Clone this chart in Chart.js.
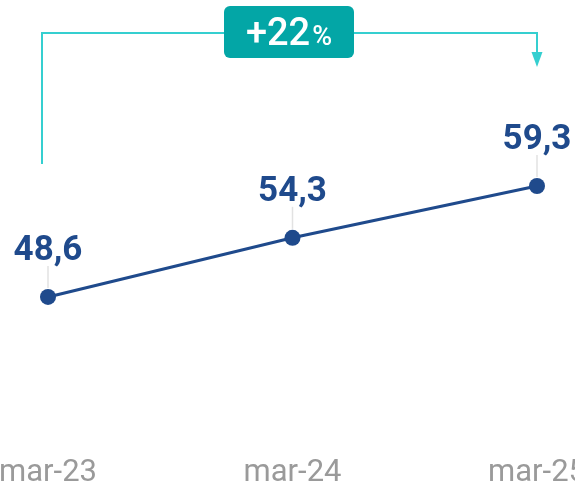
<!DOCTYPE html>
<html>
<head>
<meta charset="utf-8">
<script src="https://cdn.jsdelivr.net/npm/chart.js@4.4.1/dist/chart.umd.min.js"></script>
<style>
  html, body { margin: 0; padding: 0; background: #fff; }
  canvas { display: block; }
</style>
</head>
<body>
<canvas id="myChart" width="575" height="489"></canvas>
<script>
var periods = ['mar-23', 'mar-24', 'mar-25']
var values = [48.6, 54.3, 59.3]
var growthLabel = '+22'

var navy = '#1f4a8c'
var teal = '#35cfd0'

function fmt(v) {
    return v.toFixed(1).replace('.', ',')
}

// value labels above each point, with a thin leader line down to the marker
var valueLabels = {
    id: 'valueLabels',
    afterDatasetsDraw: function (chart) {
        var ctx = chart.ctx
        var meta = chart.getDatasetMeta(0)
        ctx.save()
        meta.data.forEach(function (pt, i) {
            ctx.strokeStyle = '#e2e2e2'
            ctx.lineWidth = 1.5
            ctx.beginPath()
            ctx.moveTo(pt.x, pt.y - 31)
            ctx.lineTo(pt.x, pt.y - 9)
            ctx.stroke()
            ctx.fillStyle = navy
            ctx.font = 'bold 35px Roboto'
            ctx.textAlign = 'center'
            ctx.textBaseline = 'alphabetic'
            ctx.fillText(fmt(values[i]), pt.x, pt.y - 37)
        })
        ctx.restore()
    }
}

// category labels along the bottom, placed by the x scale
var bottomLabels = {
    id: 'bottomLabels',
    afterDraw: function (chart) {
        var ctx = chart.ctx
        var x = chart.scales.x
        ctx.save()
        ctx.fillStyle = '#9a9a9a'
        ctx.font = '31px Roboto'
        ctx.textAlign = 'center'
        ctx.textBaseline = 'alphabetic'
        periods.forEach(function (p, i) {
            ctx.fillText(p, x.getPixelForValue(i), 481)
        })
        ctx.restore()
    }
}

// bracket from first to last period with the growth badge
var growthBracket = {
    id: 'growthBracket',
    afterDraw: function (chart) {
        var ctx = chart.ctx
        var x = chart.scales.x
        var x0 = x.getPixelForValue(0) - 6
        var x1 = x.getPixelForValue(values.length - 1)
        var top = 33
        ctx.save()
        ctx.strokeStyle = teal
        ctx.lineWidth = 2
        ctx.beginPath()
        ctx.moveTo(x0, 164)
        ctx.lineTo(x0, top)
        ctx.lineTo(x1, top)
        ctx.lineTo(x1, 54)
        ctx.stroke()
        ctx.fillStyle = teal
        ctx.beginPath()
        ctx.moveTo(x1 - 5.5, 52)
        ctx.lineTo(x1 + 5.5, 52)
        ctx.lineTo(x1, 67)
        ctx.closePath()
        ctx.fill()

        // badge
        var bx = 224, bw = 130, by = 6, bh = 52
        ctx.fillStyle = '#03a6a6'
        ctx.beginPath()
        ctx.roundRect(bx, by, bw, bh, 6)
        ctx.fill()

        ctx.fillStyle = '#fff'
        ctx.textBaseline = 'alphabetic'
        ctx.textAlign = 'left'
        ctx.font = '500 38px Roboto'
        var w1 = ctx.measureText(growthLabel).width
        ctx.font = '500 27px Roboto'
        var w2 = ctx.measureText('%').width
        var sx = bx + bw / 2 - (w1 + w2 + 2) / 2
        ctx.font = '500 38px Roboto'
        ctx.fillText(growthLabel, sx, 45)
        ctx.font = '500 27px Roboto'
        ctx.fillText('%', sx + w1 + 2, 45)
        ctx.restore()
    }
}

var ctx = document.getElementById('myChart').getContext('2d')

var myChart = new Chart(ctx, {
    type: 'line',
    data: {
        labels: periods,
        datasets: [{
            data: values,
            borderColor: navy,
            borderWidth: 3,
            backgroundColor: navy,
            pointBackgroundColor: navy,
            pointBorderWidth: 0,
            pointRadius: 8,
            tension: 0,
            clip: false
        }]
    },
    options: {
        responsive: false,
        animation: false,
        events: [],
        layout: {
            padding: { left: 48, right: 38, top: 75, bottom: 51 }
        },
        scales: {
            x: { display: false, offset: false },
            y: { display: false, min: 35, max: 70 }
        },
        plugins: {
            legend: { display: false },
            tooltip: { enabled: false }
        }
    },
    plugins: [valueLabels, bottomLabels, growthBracket]
})
</script>
</body>
</html>
